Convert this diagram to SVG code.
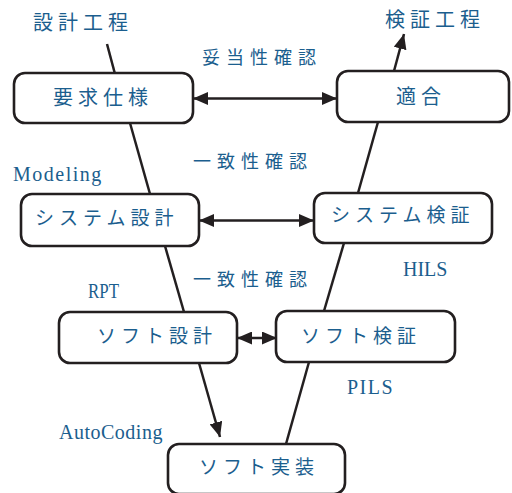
<svg xmlns="http://www.w3.org/2000/svg" width="512" height="493" viewBox="0 0 512 493">
  <style>
    .box { fill: #ffffff; stroke: #231f20; stroke-width: 2.6; }
    .lbl { font-family: "Noto Sans CJK JP", "Noto Sans", sans-serif; fill: #1b5e8e; font-size: 20px; letter-spacing: 5px; }
    .lbl19 { font-size: 19px; }
    .chk { font-family: "Noto Sans CJK JP", "Noto Sans", sans-serif; fill: #1b5e8e; font-size: 18px; letter-spacing: 6px; }
    .tool { font-family: "Liberation Serif", "Times New Roman", serif; fill: #1b5e8e; font-size: 20px; }
    .wire { stroke: #231f20; stroke-width: 2.5; fill: none; }
  </style>
  <defs>
    <marker id="tip" markerUnits="userSpaceOnUse" markerWidth="15" markerHeight="13" refX="15" refY="6.5" orient="auto-start-reverse">
      <path d="M0,0 L15,6.5 L0,13 z" fill="#231f20"/>
    </marker>
  </defs>

  <rect width="512" height="493" fill="#ffffff"/>

  <!-- connectors -->
  <g id="connectors">
    <line class="wire" x1="107" y1="44" x2="115" y2="74"/>
    <line class="wire" x1="130" y1="123" x2="150" y2="194"/>
    <line class="wire" x1="165" y1="246" x2="184" y2="312"/>
    <line class="wire" x1="199" y1="363" x2="220" y2="437" marker-end="url(#tip)"/>
    <line class="wire" x1="286" y1="444" x2="309" y2="362"/>
    <line class="wire" x1="324" y1="311" x2="344" y2="243"/>
    <line class="wire" x1="358" y1="193" x2="378" y2="122"/>
    <line class="wire" x1="394" y1="71" x2="404" y2="34" marker-end="url(#tip)"/>
    <line class="wire" x1="193" y1="98.5" x2="337" y2="98.5" marker-start="url(#tip)" marker-end="url(#tip)"/>
    <line class="wire" x1="199" y1="220.5" x2="314" y2="220.5" marker-start="url(#tip)" marker-end="url(#tip)"/>
    <line class="wire" x1="237" y1="338" x2="277" y2="338" marker-start="url(#tip)" marker-end="url(#tip)"/>
  </g>

  <!-- process nodes -->
  <g id="req">
    <rect class="box" x="14" y="73" width="179" height="50" rx="11"/>
    <text class="lbl" x="53" y="105">要求仕様</text>
  </g>
  <g id="fit">
    <rect class="box" x="337" y="71" width="172" height="51" rx="11"/>
    <text class="lbl" x="396" y="104">適合</text>
  </g>
  <g id="sysdesign">
    <rect class="box" x="21" y="194" width="178" height="52" rx="11"/>
    <text class="lbl lbl19" x="35" y="225">システム設計</text>
  </g>
  <g id="sysverify">
    <rect class="box" x="314" y="193" width="178" height="50" rx="11"/>
    <text class="lbl lbl19" x="331" y="222">システム検証</text>
  </g>
  <g id="swdesign">
    <rect class="box" x="59" y="312" width="178" height="51" rx="11"/>
    <text class="lbl lbl19" x="97" y="343">ソフト設計</text>
  </g>
  <g id="swverify">
    <rect class="box" x="276" y="311" width="179" height="51" rx="11"/>
    <text class="lbl lbl19" x="301" y="343">ソフト検証</text>
  </g>
  <g id="impl">
    <rect class="box" x="168" y="444" width="177" height="50" rx="11"/>
    <text class="lbl lbl19" x="199" y="474">ソフト実装</text>
  </g>

  <!-- phase titles -->
  <g id="design-phase">
    <text class="lbl" x="33" y="30">設計工程</text>
  </g>
  <g id="verify-phase">
    <text class="lbl" x="385" y="27">検証工程</text>
  </g>

  <!-- check labels between levels -->
  <g id="checks">
    <text class="chk" x="202" y="64">妥当性確認</text>
    <text class="chk" x="193" y="168">一致性確認</text>
    <text class="chk" x="193" y="286">一致性確認</text>
  </g>

  <!-- tool labels -->
  <g id="tools">
    <text class="tool" x="13" y="181" letter-spacing="1.5">Modeling</text>
    <text class="tool" x="88" y="298" textLength="31" lengthAdjust="spacingAndGlyphs">RPT</text>
    <text class="tool" x="403" y="276">HILS</text>
    <text class="tool" x="347" y="394" letter-spacing="1.5">PILS</text>
    <text class="tool" x="59" y="439" letter-spacing="0.5">AutoCoding</text>
  </g>
</svg>
